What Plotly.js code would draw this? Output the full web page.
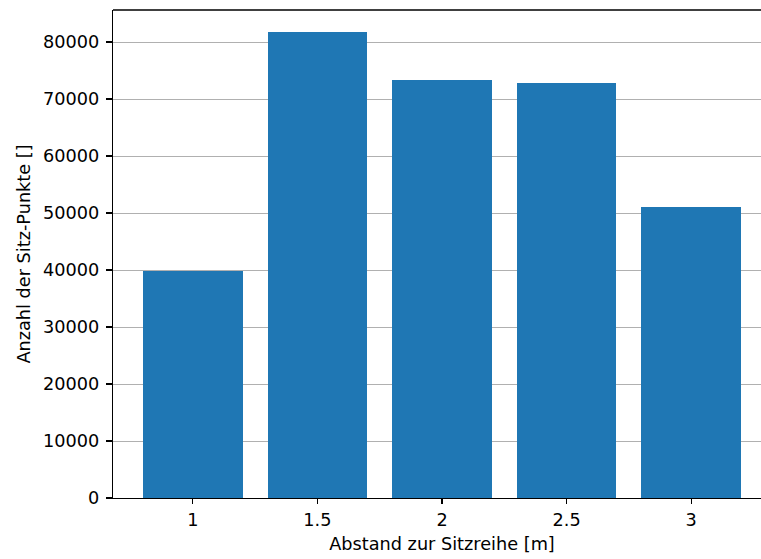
<!DOCTYPE html>
<html>
<head>
<meta charset="utf-8">
<script src="https://cdn.plot.ly/plotly-3.0.1.min.js"></script>
<style>html,body{margin:0;padding:0;background:#fff;overflow:hidden;width:761px;height:559px;}#chart{width:761px;height:559px;overflow:hidden;}</style>
</head>
<body>
<div id="chart"></div>
<script>
const distances = [1, 1.5, 2, 2.5, 3];
const counts = [39800, 81800, 73300, 72800, 51000];
const xTickLabels = ["1", "1.5", "2", "2.5", "3"];
const yTicks = [0, 10000, 20000, 30000, 40000, 50000, 60000, 70000, 80000];

const font = {family: "DejaVu Sans, sans-serif", size: 17.7, color: "#000"};
const spine = {color: "#000", width: 1.3};

Plotly.newPlot("chart", [{
  type: "bar",
  x: distances,
  y: counts,
  width: 0.4,
  marker: {color: "#1f77b4", line: {width: 0}},
  hoverinfo: "none"
}], {
  width: 771,
  height: 559,
  margin: {l: 113, r: 0, t: 10, b: 61},
  paper_bgcolor: "#fff",
  plot_bgcolor: "#fff",
  font: font,
  showlegend: false,
  bargap: 0,
  shapes: [
    {type: "line", xref: "paper", yref: "paper", x0: 0, x1: 1, y0: 1, y1: 1, line: spine}
  ],
  xaxis: {
    range: [0.68, 3.32],
    tickvals: distances,
    ticktext: xTickLabels,
    ticks: "outside",
    ticklen: 5,
    tickwidth: 1.3,
    tickcolor: "#000",
    showline: true,
    linecolor: "#000",
    linewidth: 1.3,
    showgrid: false,
    zeroline: false,
    tickfont: font,
    title: {text: "Abstand zur Sitzreihe [m]", font: font, standoff: 9}
  },
  yaxis: {
    range: [0, 85614],
    tickvals: yTicks,
    tickformat: "d",
    ticks: "outside",
    ticklen: 6,
    tickwidth: 1.3,
    tickcolor: "#000",
    showline: true,
    linecolor: "#000",
    linewidth: 1.3,
    showgrid: true,
    gridcolor: "#b0b0b0",
    gridwidth: 1,
    zeroline: false,
    tickfont: font,
    ticklabelstandoff: 3,
    title: {text: "Anzahl der Sitz-Punkte []", font: font, standoff: 7}
  }
}, {staticPlot: true, displayModeBar: false});
</script>
</body>
</html>
